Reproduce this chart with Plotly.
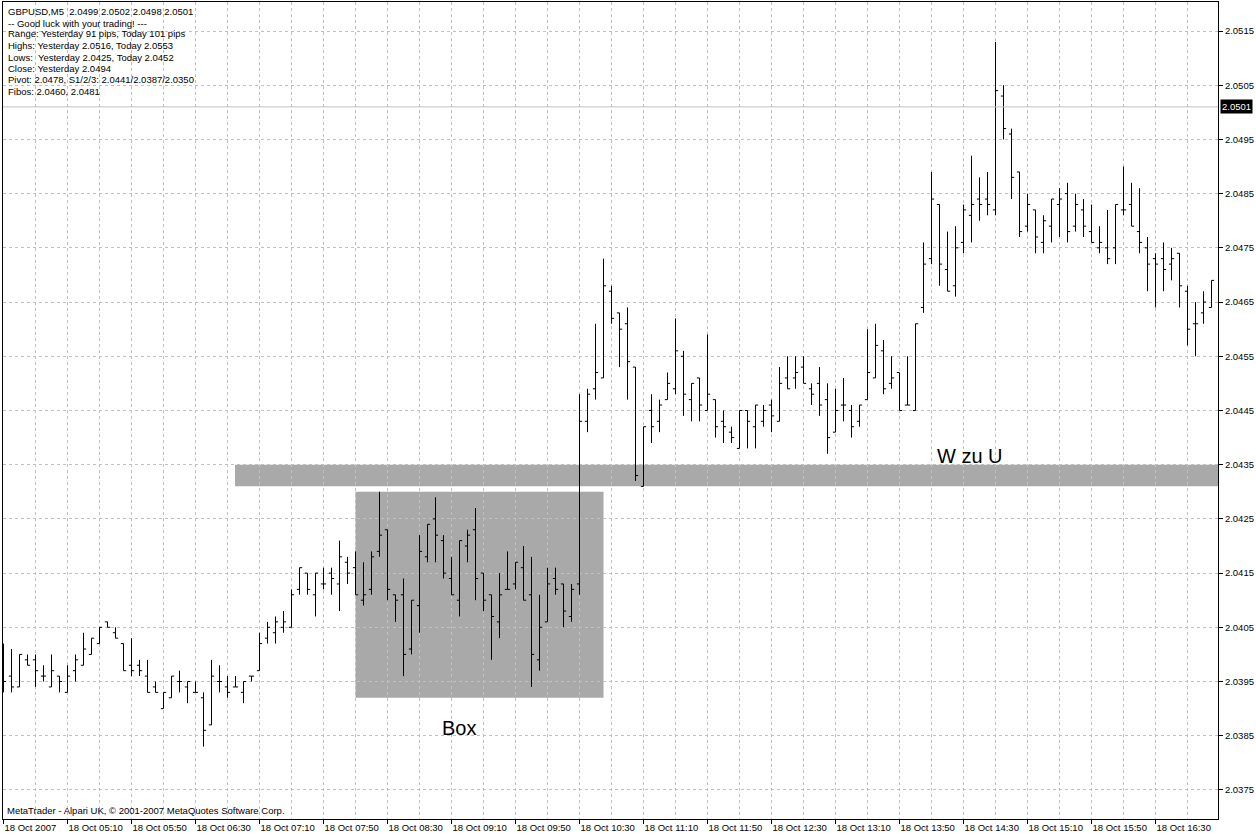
import plotly.graph_objects as go
import pandas as pd

# ---------------- data (GBPUSD M5, 18 Oct 2007) ----------------
start_time = "2007-10-18 04:30"
n_bars = 152

opens = [
    2.0398, 2.0396, 2.0394, 2.0399, 2.0399, 2.0396, 2.0394, 2.0396, 2.0393, 2.0397,
    2.0398, 2.0400, 2.0402, 2.0406, 2.0404, 2.0402, 2.0398, 2.0398, 2.0396, 2.0394,
    2.0390, 2.0392, 2.0395, 2.0394, 2.0393, 2.0392, 2.0387, 2.0395, 2.0394, 2.0394,
    2.0393, 2.0396, 2.0397, 2.0403, 2.0404, 2.0405, 2.0405, 2.0412, 2.0415, 2.0411,
    2.0413, 2.0415, 2.0413, 2.0417, 2.0416, 2.0410, 2.0412, 2.0419, 2.0423, 2.0411,
    2.0411, 2.0401, 2.0409, 2.0418, 2.0425, 2.0421, 2.0414, 2.0410, 2.0420, 2.0423,
    2.0415, 2.0411, 2.0406, 2.0412, 2.0413, 2.0416, 2.0411, 2.0399, 2.0406, 2.0414,
    2.0413, 2.0407, 2.0413, 2.0443, 2.0449, 2.0451, 2.0467, 2.0463, 2.0461, 2.0453,
    2.0431, 2.0445, 2.0443, 2.0447, 2.0449, 2.0455, 2.0447, 2.0451, 2.0445, 2.0447,
    2.0443, 2.0441, 2.0438, 2.0445, 2.0442, 2.0443, 2.0446, 2.0443, 2.0451, 2.0451,
    2.0453, 2.0449, 2.0450, 2.0447, 2.0441, 2.0446, 2.0445, 2.0443, 2.0447, 2.0451,
    2.0456, 2.0450, 2.0452, 2.0446, 2.0445, 2.0464, 2.0473, 2.0483, 2.0471, 2.0468,
    2.0476, 2.0481, 2.0484, 2.0484, 2.0482, 2.0503, 2.0496, 2.0489, 2.0479, 2.0482,
    2.0476, 2.0479, 2.0483, 2.0485, 2.0479, 2.0482, 2.0478, 2.0475, 2.0475, 2.0475,
    2.0482, 2.0483, 2.0478, 2.0475, 2.0473, 2.0473, 2.0472, 2.0474, 2.0467, 2.0461,
    2.0463, 2.0464,
]
highs = [
    2.0402, 2.0401, 2.0400, 2.0400, 2.0400, 2.0398, 2.0400, 2.0396, 2.0398, 2.0400,
    2.0404, 2.0403, 2.0405, 2.0406, 2.0405, 2.0402, 2.0403, 2.0399, 2.0399, 2.0395,
    2.0393, 2.0396, 2.0397, 2.0395, 2.0395, 2.0393, 2.0399, 2.0398, 2.0396, 2.0396,
    2.0395, 2.0396, 2.0404, 2.0406, 2.0407, 2.0408, 2.0412, 2.0416, 2.0415, 2.0415,
    2.0416, 2.0416, 2.0421, 2.0418, 2.0419, 2.0417, 2.0419, 2.0430, 2.0423, 2.0411,
    2.0414, 2.0410, 2.0422, 2.0424, 2.0429, 2.0422, 2.0418, 2.0421, 2.0423, 2.0427,
    2.0415, 2.0411, 2.0415, 2.0419, 2.0417, 2.0420, 2.0418, 2.0411, 2.0416, 2.0416,
    2.0413, 2.0413, 2.0448, 2.0449, 2.0461, 2.0473, 2.0468, 2.0463, 2.0464, 2.0453,
    2.0442, 2.0448, 2.0447, 2.0452, 2.0462, 2.0456, 2.0450, 2.0451, 2.0459, 2.0447,
    2.0445, 2.0442, 2.0445, 2.0445, 2.0446, 2.0446, 2.0447, 2.0453, 2.0455, 2.0455,
    2.0455, 2.0450, 2.0453, 2.0450, 2.0449, 2.0451, 2.0446, 2.0446, 2.0460, 2.0461,
    2.0458, 2.0455, 2.0452, 2.0455, 2.0461, 2.0476, 2.0489, 2.0483, 2.0478, 2.0479,
    2.0483, 2.0492, 2.0488, 2.0489, 2.0513, 2.0505, 2.0497, 2.0489, 2.0485, 2.0482,
    2.0481, 2.0484, 2.0486, 2.0487, 2.0485, 2.0484, 2.0483, 2.0479, 2.0482, 2.0483,
    2.0490, 2.0487, 2.0486, 2.0477, 2.0474, 2.0476, 2.0475, 2.0474, 2.0468, 2.0465,
    2.0467, 2.0469,
]
lows = [
    2.0393, 2.0393, 2.0394, 2.0398, 2.0394, 2.0395, 2.0394, 2.0393, 2.0393, 2.0395,
    2.0398, 2.0400, 2.0402, 2.0405, 2.0403, 2.0397, 2.0396, 2.0396, 2.0393, 2.0393,
    2.0390, 2.0392, 2.0393, 2.0391, 2.0393, 2.0383, 2.0387, 2.0393, 2.0392, 2.0394,
    2.0391, 2.0395, 2.0397, 2.0402, 2.0402, 2.0404, 2.0405, 2.0411, 2.0411, 2.0407,
    2.0412, 2.0411, 2.0408, 2.0413, 2.0411, 2.0409, 2.0411, 2.0418, 2.0410, 2.0406,
    2.0396, 2.0400, 2.0404, 2.0417, 2.0417, 2.0414, 2.0411, 2.0407, 2.0417, 2.0410,
    2.0408, 2.0399, 2.0403, 2.0412, 2.0412, 2.0410, 2.0394, 2.0397, 2.0406, 2.0411,
    2.0405, 2.0406, 2.0411, 2.0441, 2.0447, 2.0451, 2.0461, 2.0453, 2.0447, 2.0432,
    2.0431, 2.0439, 2.0441, 2.0447, 2.0448, 2.0444, 2.0443, 2.0443, 2.0445, 2.0440,
    2.0439, 2.0439, 2.0438, 2.0438, 2.0438, 2.0442, 2.0441, 2.0443, 2.0449, 2.0449,
    2.0450, 2.0446, 2.0444, 2.0437, 2.0441, 2.0443, 2.0440, 2.0442, 2.0447, 2.0451,
    2.0448, 2.0449, 2.0445, 2.0446, 2.0445, 2.0463, 2.0472, 2.0468, 2.0467, 2.0466,
    2.0474, 2.0476, 2.0480, 2.0481, 2.0481, 2.0495, 2.0484, 2.0477, 2.0478, 2.0474,
    2.0474, 2.0476, 2.0477, 2.0476, 2.0478, 2.0477, 2.0476, 2.0474, 2.0472, 2.0472,
    2.0481, 2.0479, 2.0474, 2.0467, 2.0464, 2.0467, 2.0469, 2.0464, 2.0457, 2.0455,
    2.0461, 2.0464,
]
closes = [
    2.0395, 2.0394, 2.0400, 2.0398, 2.0397, 2.0396, 2.0397, 2.0395, 2.0396, 2.0399,
    2.0401, 2.0403, 2.0405, 2.0405, 2.0403, 2.0397, 2.0397, 2.0397, 2.0393, 2.0393,
    2.0393, 2.0396, 2.0395, 2.0395, 2.0393, 2.0386, 2.0396, 2.0395, 2.0393, 2.0394,
    2.0395, 2.0396, 2.0402, 2.0405, 2.0406, 2.0406, 2.0411, 2.0416, 2.0412, 2.0415,
    2.0413, 2.0414, 2.0418, 2.0415, 2.0411, 2.0411, 2.0418, 2.0422, 2.0412, 2.0410,
    2.0400, 2.0410, 2.0419, 2.0424, 2.0422, 2.0415, 2.0411, 2.0421, 2.0422, 2.0414,
    2.0410, 2.0407, 2.0411, 2.0412, 2.0417, 2.0410, 2.0400, 2.0405, 2.0413, 2.0412,
    2.0408, 2.0412, 2.0443, 2.0448, 2.0452, 2.0468, 2.0462, 2.0460, 2.0454, 2.0433,
    2.0442, 2.0442, 2.0446, 2.0450, 2.0456, 2.0448, 2.0450, 2.0446, 2.0448, 2.0442,
    2.0442, 2.0440, 2.0445, 2.0443, 2.0446, 2.0445, 2.0444, 2.0450, 2.0449, 2.0452,
    2.0450, 2.0448, 2.0446, 2.0440, 2.0445, 2.0446, 2.0442, 2.0446, 2.0452, 2.0457,
    2.0449, 2.0451, 2.0445, 2.0446, 2.0461, 2.0472, 2.0484, 2.0472, 2.0467, 2.0475,
    2.0482, 2.0483, 2.0483, 2.0483, 2.0504, 2.0497, 2.0488, 2.0478, 2.0483, 2.0477,
    2.0480, 2.0484, 2.0484, 2.0478, 2.0483, 2.0479, 2.0476, 2.0476, 2.0473, 2.0483,
    2.0482, 2.0479, 2.0476, 2.0472, 2.0472, 2.0471, 2.0473, 2.0468, 2.0460, 2.0461,
    2.0465, 2.0469,
]

x_tick_labels = [
    "18 Oct 2007", "18 Oct 05:10", "18 Oct 05:50", "18 Oct 06:30", "18 Oct 07:10",
    "18 Oct 07:50", "18 Oct 08:30", "18 Oct 09:10", "18 Oct 09:50", "18 Oct 10:30",
    "18 Oct 11:10", "18 Oct 11:50", "18 Oct 12:30", "18 Oct 13:10", "18 Oct 13:50",
    "18 Oct 14:30", "18 Oct 15:10", "18 Oct 15:50", "18 Oct 16:30",
]
y_tick_values = [2.0375, 2.0385, 2.0395, 2.0405, 2.0415, 2.0425, 2.0435,
                 2.0445, 2.0455, 2.0465, 2.0475, 2.0485, 2.0495, 2.0505, 2.0515]

info_lines = [
    "GBPUSD,M5  2.0499 2.0502 2.0498 2.0501",
    "-- Good luck with your trading! ---",
    "Range: Yesterday 91 pips, Today 101 pips",
    "Highs: Yesterday 2.0516, Today 2.0553",
    "Lows:  Yesterday 2.0425, Today 2.0452",
    "Close: Yesterday 2.0494",
    "Pivot: 2.0478, S1/2/3: 2.0441/2.0387/2.0350",
    "Fibos: 2.0460, 2.0481",
]
current_price = 2.0501
box_range = (2.0392, 2.0430)
band_range = (2.0431, 2.0435)

# ---------------- figure ----------------
times = pd.date_range(start_time, periods=n_bars, freq="5min")
step = pd.Timedelta(minutes=5)
x_range = [times[0] - 0.0625 * step, times[0] + 151.81 * step]
y_range = [2.036964, 2.052035]

FONT = "Liberation Sans, Arial, sans-serif"
FS = 9.5
GRID = "#c0c0c0"
W, H = 1256, 836
ML, MR, MT, MB = 3, 38, 2, 17
PW, PH = W - ML - MR, H - MT - MB


def px_x(px):
    return (px - ML) / PW


def px_y(py):
    return 1 - (py - MT) / PH


fig = go.Figure()
fig.add_trace(go.Ohlc(
    x=times, open=opens, high=highs, low=lows, close=closes,
    increasing=dict(line=dict(color="black", width=1)),
    decreasing=dict(line=dict(color="black", width=1)),
    tickwidth=0.33, hoverinfo="skip", showlegend=False,
))

shapes = [
    dict(type="rect", xref="x", yref="y", x0=times[44], x1=times[75],
         y0=box_range[0], y1=box_range[1], fillcolor="#a9a9a9",
         line=dict(width=0), layer="below"),
    dict(type="rect", xref="x", yref="y", x0=times[29] - 0.06 * step, x1=x_range[1],
         y0=band_range[0], y1=band_range[1], fillcolor="#a9a9a9",
         line=dict(width=0), layer="below"),
    dict(type="line", xref="paper", yref="y", x0=0, x1=1,
         y0=current_price, y1=current_price, line=dict(color=GRID, width=1)),
]

annotations = []
line_y = [11.5, 23, 34, 45.5, 57, 68.5, 80, 91.5]
for txt, yy in zip(info_lines, line_y):
    annotations.append(dict(
        text=txt, xref="paper", yref="paper", x=px_x(6), y=px_y(yy),
        xanchor="left", yanchor="middle", showarrow=False,
        font=dict(family=FONT, size=FS, color="black")))
annotations.append(dict(
    text="MetaTrader - Alpari UK, \u00a9 2001-2007 MetaQuotes Software Corp.",
    xref="paper", yref="paper", x=px_x(5), y=px_y(810),
    xanchor="left", yanchor="middle", showarrow=False,
    font=dict(family=FONT, size=FS, color="black")))
annotations.append(dict(
    text="Box", xref="x", yref="y", x=times[56] + 0.9 * step, y=2.03864,
    xanchor="center", yanchor="middle", showarrow=False,
    font=dict(family=FONT, size=20, color="black")))
annotations.append(dict(
    text="W zu U", xref="x", yref="y", x=times[120] + 0.8 * step, y=2.04366,
    xanchor="center", yanchor="middle", showarrow=False,
    font=dict(family=FONT, size=20, color="black")))
annotations.append(dict(
    text="%.4f" % current_price, xref="paper", yref="y", x=1, xshift=2,
    y=current_price, xanchor="left", yanchor="middle", showarrow=False,
    bgcolor="black", borderpad=1,
    font=dict(family=FONT, size=FS, color="white")))

fig.update_layout(
    width=W, height=H,
    margin=dict(l=ML, r=MR, t=MT, b=MB, pad=0, autoexpand=False),
    paper_bgcolor="white", plot_bgcolor="white",
    shapes=shapes, annotations=annotations,
    showlegend=False,
    xaxis=dict(
        type="date", range=x_range, automargin=False,
        tickvals=[times[i] for i in range(0, n_bars, 8)][:len(x_tick_labels)],
        ticktext=x_tick_labels, tickangle=0,
        ticks="outside", ticklen=4, tickcolor="black",
        ticklabelposition="outside right",
        tickfont=dict(family=FONT, size=FS, color="black"),
        showgrid=True, gridcolor=GRID, griddash="3px,3px", gridwidth=1,
        minor=dict(dtick=20 * 60 * 1000, tick0=times[0], showgrid=True,
                   gridcolor=GRID, griddash="3px,3px", gridwidth=1, ticks=""),
        showline=True, mirror=True, linecolor="black", linewidth=1,
        zeroline=False, rangeslider=dict(visible=False), fixedrange=True,
    ),
    yaxis=dict(
        side="right", range=y_range, automargin=False,
        tickvals=y_tick_values, ticktext=["%.4f" % v for v in y_tick_values],
        ticks="outside", ticklen=4, tickcolor="black",
        tickfont=dict(family=FONT, size=FS, color="black"),
        showgrid=True, gridcolor=GRID, griddash="3px,3px", gridwidth=1,
        showline=True, mirror=True, linecolor="black", linewidth=1,
        zeroline=False, fixedrange=True,
    ),
)

fig.write_html(
    "out.html",
    config={"displayModeBar": False, "staticPlot": True},
    post_script="document.body.style.margin='0px';document.body.style.padding='0px';",
)
